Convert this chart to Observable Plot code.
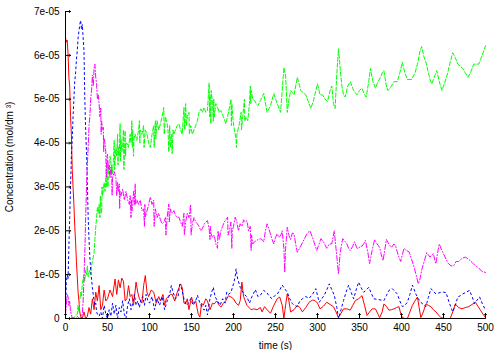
<!DOCTYPE html>
<html>
<head>
<meta charset="utf-8">
<script src="https://cdn.jsdelivr.net/npm/d3@7"></script>
<script src="https://cdn.jsdelivr.net/npm/@observablehq/plot@0.6"></script>
<style>
  html, body { margin: 0; padding: 0; background: #fff; }
</style>
</head>
<body>
<div id="chart"></div>
<script>
// Values are [time (s), concentration in units of 1e-05 mol/dm^3]
const SCALE = 1e-5;

const redData = [[0,6.4],[1,6.3],[2,6.35],[3,6.05],[4,5.5],[5,5.3],[6,4.6],[7,4.2],[8,3.4],[9,3.0],[10,2.6],[11,2.1],[12,1.75],[13,1.3],[14,0.95],[15,0.6],[16,0.4],[17,0.15],[18,0.05],[20,0],[22,0.15],[24,0],[26,0.05],[28,0.25],[30,0.1],[32,0.45],[34,0.2],[36,0.6],[38,0.4],[40,0.75],[42,0.2],[44,0.3],[46,0.65],[48,0.4],[50,0.45],[53,0.65],[56,0.5],[59,0.9],[61,0.55],[63,0.88],[65,0.7],[67,0.92],[69,0.85],[71,0.4],[73,0.45],[75,0.75],[77,0.5],[79,0.55],[81,0.3],[84,0.83],[86,0.6],[88,0.45],[91,0.35],[93,0.75],[95,0.98],[97,0.6],[99,0.5],[102,0.65],[105,0.6],[108,0.35],[111,0.5],[113,0.4],[116,0.55],[118,0.3],[120,0.45],[122,0.5],[125,0.55],[127,0.55],[130,0.4],[133,0.6],[135,0.7],[137,0.79],[139,0.7],[141,0.35],[143,0.34],[145,0.45],[147,0.2],[150,0.49],[152,0.35],[155,0.4],[158,0.1],[160,0.03],[162,0.35],[164,0.3],[167,0.45],[169,0.4],[172,0.2],[175,0.35],[177,0.33],[180,0.4],[183,0.3],[185,0.26],[188,0.35],[191,0.41],[194,0.52],[197,0.49],[200,0.45],[203,0.35],[206,0.3],[208,0.41],[210,0.83],[212,0.5],[214,0.4],[216,0.3],[218,0.26],[221,0.2],[224,0.22],[228,0.2],[232,0.25],[234,0.15],[237,0.27],[240,0.2],[244,0.12],[248,0.3],[252,0.45],[255,0.49],[258,0.3],[260,0],[262,0.3],[264,0.56],[266,0.4],[268,0.15],[272,0.2],[276,0.3],[279,0.25],[282,0.15],[286,0.25],[290,0.37],[294,0.42],[297,0.41],[300,0.35],[303,0.22],[307,0.28],[311,0.37],[315,0.32],[319,0.27],[322,0.15],[325,0.02],[328,0.12],[331,0.22],[335,0.22],[339,0.19],[342,0.3],[345,0.41],[349,0.45],[353,0.52],[356,0.3],[359,0.07],[362,0.15],[365,0.22],[369,0.22],[372,0.1],[374,0.02],[377,0.15],[379,0.33],[382,0.28],[385,0.19],[388,0.2],[391,0.22],[394,0.25],[397,0.27],[399,0.12],[401,0.02],[404,0],[407,0],[410,0.15],[413,0.3],[416,0.4],[419,0.49],[421,0.25],[423,0.02],[426,0.15],[429,0.33],[432,0.3],[435,0.27],[438,0.2],[441,0.15],[444,0.08],[447,0.02],[451,0],[454,0],[458,0],[461,0.15],[464,0.33],[468,0.25],[472,0.22],[476,0.25],[480,0.27],[484,0.32],[488,0.37],[491,0.28],[494,0.19],[497,0.1],[500,0.02]];

const greenData = [[0,0],[5,0],[10,0.02],[12,0.05],[14,0.1],[15,0.3],[16,0.15],[17,0.4],[18,0.6],[19,0.5],[20,0.8],[21,0.9],[22,1.0],[23,0.85],[24,1.1],[25,1.0],[26,1.2],[27,0.95],[28,1.05],[29,1.1],[30,1.0],[31,1.2],[32,1.3],[33,1.4],[34,1.48],[35,1.8],[36,2.08],[37,2.3],[38,2.53],[39,2.4],[40,2.6],[41,2.3],[41.5,2.8],[42,2.53],[43,2.4],[43.5,3.0],[44,2.8],[45,2.92],[46,3.1],[47,2.9],[48,3.2],[49,3.0],[50,3.6],[50.5,3.0],[51,3.45],[52,3.3],[53,3.7],[54,3.6],[54.5,3.3],[55,3.5],[56,3.3],[57,3.6],[58,4.06],[58.5,3.4],[59,3.55],[60,3.9],[61,3.7],[62,4.2],[62.5,3.5],[63,3.9],[64,3.7],[65,4.44],[65.5,3.6],[66,4.1],[67,3.8],[68,3.9],[69,4.3],[69.5,3.4],[70,3.7],[71,4.28],[71.5,3.7],[72,4.0],[73,4.0],[75,3.9],[77,4.2],[78,4.0],[79,4.51],[79.5,3.9],[80,4.3],[81,3.7],[81.5,4.1],[83,4.2],[85,4.06],[87,4.3],[88,4.51],[88.5,4.0],[89,4.3],[91,4.2],[93,4.4],[93.5,3.9],[95,4.3],[97,4.2],[99,4.0],[101,3.9],[103,4.2],[105,4.4],[105.5,3.9],[107,4.51],[107.5,4.1],[109,4.51],[111,4.3],[113,4.44],[115,4.6],[117,4.81],[117.5,4.2],[119,4.6],[121,4.44],[122,4.3],[123,3.8],[124,4.4],[125,3.9],[126,4.2],[127,3.76],[128,4.3],[129,4.2],[131,4.3],[133,4.4],[135,4.44],[137,4.3],[139,4.2],[141,4.81],[142,4.3],[143,4.9],[144,4.4],[145,4.6],[147,4.7],[147.5,4.2],[149,4.4],[151,4.2],[153,4.3],[155,4.4],[157,4.51],[159,4.7],[161,4.78],[163,4.7],[165,4.81],[167,4.7],[169,4.74],[171,5.37],[171.5,4.6],[172,5.1],[173,4.44],[173.5,5.2],[175,4.9],[176,4.5],[176.5,5.0],[177,4.59],[179,4.9],[181,4.81],[183,4.7],[185,4.74],[188,4.6],[191,4.44],[194,4.7],[197,5.0],[197.5,4.4],[198,4.9],[199,4.6],[201,4.3],[203,4.1],[203.5,3.9],[204,4.2],[207,4.44],[209,4.7],[209.5,4.3],[211,4.6],[213,5.0],[213.5,4.5],[215,4.6],[217,4.51],[219,4.9],[220,5.3],[220.5,4.9],[221,5.2],[223,5.0],[225,4.97],[227,4.9],[229,4.85],[232,4.97],[236,5.13],[240,4.7],[244,4.85],[248,5.13],[252,4.9],[256,4.7],[258,5.2],[260,5.72],[262,5.55],[264,4.7],[266,5.0],[268,5.2],[270,5.15],[272,5.1],[274,5.3],[276,5.5],[278,5.35],[280,5.2],[283,5.15],[286,5.1],[289,4.95],[292,4.79],[295,4.95],[298,5.2],[300,5.35],[303,5.1],[306,5.1],[309,5.0],[312,4.95],[315,5.2],[317,5.3],[319,4.9],[321,4.79],[323,5.58],[325,6.15],[327,5.7],[329,5.3],[331,5.1],[333,5.05],[336,5.3],[339,5.4],[343,5.2],[347,5.1],[350,5.2],[353,5.25],[356,5.1],[358,5.05],[361,5.4],[363,5.7],[366,5.4],[369,5.25],[372,5.4],[375,5.5],[377,5.6],[379,5.65],[382,5.3],[384,5.2],[388,5.3],[391,5.4],[395,5.4],[398,5.6],[401,5.84],[404,5.6],[407,5.45],[410,5.45],[412,5.45],[416,5.6],[419,5.8],[422,6.1],[424,6.2],[427,5.95],[429,5.85],[432,5.6],[434,5.45],[436,5.35],[439,5.5],[442,5.65],[445,5.4],[448,5.2],[451,5.35],[455,5.6],[458,5.85],[461,6.06],[464,5.95],[467,5.8],[470,5.75],[473,5.7],[476,5.6],[479,5.5],[482,5.6],[486,5.8],[489,5.8],[492,5.8],[494,5.9],[496,6.0],[498,6.1],[500,6.22]];

const blueData = [[0,0.2],[1,0.8],[2,1.0],[3,0.9],[4,1.6],[5,2.3],[6,3.0],[7,3.7],[8,4.1],[9,4.6],[10,5.0],[11,5.4],[12,5.6],[13,5.9],[14,6.1],[15,6.4],[16,6.55],[17,6.7],[18,6.8],[19,6.6],[20,6.7],[21,6.4],[22,6.1],[23,5.0],[24,4.3],[25,3.8],[26,3.1],[27,2.3],[28,1.8],[29,1.4],[30,1.1],[31,0.9],[32,0.7],[33,0.55],[34,0.4],[35,0.3],[36,0.35],[37,0.15],[38,0.1],[40,0.05],[42,0.15],[44,0],[46,0.3],[48,0.1],[50,0.0],[52,0.2],[54,0.05],[56,0.35],[58,0.1],[60,0.3],[62,0.0],[64,0.25],[66,0.15],[68,0.4],[70,0.1],[72,0.0],[74,0.3],[76,0.45],[78,0.2],[80,0.35],[82,0.55],[84,0.3],[86,0.4],[88,0.25],[90,0.45],[92,0.5],[94,0.3],[96,0.55],[98,0.4],[100,0.35],[103,0.5],[106,0.2],[109,0.45],[112,0.3],[115,0.5],[118,0.2],[121,0.4],[124,0.55],[126,0.75],[128,0.6],[131,0.45],[134,0.5],[136,0.78],[138,0.7],[141,0.45],[144,0.3],[146,0.34],[149,0.45],[152,0.3],[155,0.4],[157,0.53],[160,0.35],[163,0.25],[165,0.19],[167,0.3],[169,0.08],[172,0.45],[174,0.6],[176,0.71],[178,0.5],[181,0.4],[184,0.3],[187,0.45],[190,0.35],[192,0.6],[194,0.55],[197,0.6],[200,0.79],[202,0.95],[203,1.13],[205,0.9],[208,0.71],[211,0.6],[213,0.55],[216,0.49],[219,0.35],[222,0.5],[226,0.66],[229,0.5],[232,0.53],[236,0.64],[240,0.58],[243,0.5],[246,0.45],[249,0.52],[252,0.55],[255,0.65],[258,0.76],[261,0.68],[264,0.6],[267,0.45],[270,0.34],[273,0.3],[276,0.27],[279,0.4],[282,0.45],[286,0.5],[290,0.46],[294,0.55],[298,0.68],[302,0.37],[305,0.45],[308,0.53],[311,0.65],[314,0.79],[317,0.66],[320,0.53],[323,0.25],[325,0],[328,0.2],[331,0.41],[334,0.6],[337,0.76],[340,0.6],[343,0.45],[346,0.65],[349,0.83],[352,0.7],[355,0.6],[358,0.65],[361,0.71],[364,0.58],[367,0.45],[370,0.44],[373,0.43],[376,0.42],[379,0.41],[382,0.52],[385,0.64],[389,0.68],[392,0.62],[395,0.56],[398,0.4],[401,0.27],[404,0.3],[407,0.37],[410,0.55],[413,0.76],[417,0.56],[420,0.45],[423,0.37],[426,0.32],[429,0.27],[432,0.48],[435,0.68],[438,0.62],[441,0.56],[444,0.58],[447,0.6],[450,0.6],[453,0.59],[457,0.35],[461,0.15],[464,0.3],[467,0.49],[470,0.52],[473,0.56],[477,0.6],[481,0.64],[484,0.5],[487,0.34],[490,0.42],[493,0.49],[496,0.35],[500,0.19]];

const magentaData = [[0,0.1],[1,0.3],[2,0.55],[3,0.5],[4,0.3],[5,0.4],[6,0.15],[7,0.1],[8,0],[10,0.02],[12,0],[14,0.05],[16,0],[18,0.02],[20,0.1],[21,0.4],[22,0.9],[23,1.5],[24,2.3],[25,3.0],[26,3.5],[27,3.9],[28,4.4],[29,4.6],[30,5.0],[31,5.2],[32,5.55],[33,5.3],[34,5.7],[35,5.8],[36,5.5],[37,5.35],[38,5.0],[39,5.1],[40,4.9],[41,4.6],[42,4.8],[42.5,4.2],[43,4.5],[44,4.3],[45,4.36],[45.5,3.8],[46,4.1],[47,4.0],[48,3.8],[48.5,3.2],[49,3.6],[50,3.75],[51,3.4],[52,3.5],[53,3.2],[54,3.45],[55,3.3],[55.5,2.8],[56,3.2],[58,3.35],[60,3.2],[61,2.8],[62,3.1],[63,2.9],[64,3.07],[64.5,2.5],[65,2.9],[66,2.8],[68,2.95],[70,2.7],[72,2.9],[74,2.7],[76,2.6],[77,2.8],[78,2.3],[78.5,2.7],[79,2.45],[80,2.6],[81,2.9],[82,2.6],[83,3.07],[83.5,2.6],[85,2.7],[87,2.6],[89,2.7],[91,2.46],[93,2.5],[94,2.1],[94.5,2.6],[95,2.31],[97,2.45],[99,2.6],[101,2.77],[103,2.6],[105,2.7],[105.5,2.1],[107,2.5],[109,2.3],[111,2.4],[113,2.25],[115,2.16],[117,2.2],[119,2.3],[119.5,1.9],[121,2.3],[123,2.61],[123.5,2.2],[125,2.5],[127,2.4],[129,2.46],[131,2.35],[133,2.3],[135,2.31],[137,2.2],[139,2.1],[141,2.4],[141.5,1.9],[143,2.2],[145,2.4],[147,2.3],[149,2.6],[149.5,1.9],[151,2.16],[153,2.3],[155,2.2],[157,2.16],[159,2.1],[161,2.0],[163,2.05],[165,2.15],[167,2.2],[169,2.23],[171,2.05],[172,1.8],[172.5,2.1],[173,1.95],[175,1.85],[177,1.9],[179,1.7],[181,1.6],[181.5,2.0],[183,1.8],[185,2.0],[187,2.1],[189,2.2],[191,2.25],[193,2.31],[193.5,1.9],[195,2.0],[197,2.2],[198,1.6],[198.5,2.0],[200,2.1],[202,2.31],[204,2.2],[206,2.0],[208,2.16],[210,2.1],[212,2.25],[214,2.2],[216,2.23],[218,2.0],[220,2.1],[221,1.55],[221.5,1.9],[223,1.7],[225,1.75],[227,1.77],[229,1.8],[232,1.82],[234,1.8],[236,1.75],[238,2.0],[240,2.16],[242,2.05],[244,1.93],[246,1.8],[248,1.7],[250,1.85],[252,1.93],[254,1.85],[256,1.88],[258,2.0],[260,1.6],[261,1.05],[262,1.6],[264,2.08],[266,1.9],[268,1.8],[270,1.95],[272,1.93],[274,1.7],[276,1.51],[280,1.65],[284,1.8],[288,1.95],[291,2.0],[295,1.8],[299,1.55],[302,1.7],[304,1.82],[307,1.75],[311,1.6],[314,1.7],[317,1.7],[320,2.0],[322,1.6],[325,1.02],[327,1.5],[330,1.82],[333,1.75],[335,1.7],[337,1.6],[339,1.55],[342,1.65],[344,1.75],[347,1.6],[349,1.6],[351,1.65],[353,1.65],[355,1.7],[357,1.78],[360,1.5],[362,1.25],[365,1.55],[368,1.8],[371,1.7],[374,1.62],[376,1.45],[378,1.32],[380,1.55],[382,1.8],[385,1.7],[388,1.62],[391,1.7],[393,1.65],[396,1.45],[399,1.3],[401,1.45],[403,1.6],[406,1.55],[409,1.52],[412,1.35],[415,1.17],[418,0.95],[420,0.79],[422,0.9],[424,1.1],[427,1.3],[430,1.5],[432,1.45],[434,1.4],[436,1.45],[438,1.48],[440,1.3],[441,1.25],[443,1.5],[445,1.7],[448,1.55],[450,1.48],[453,1.35],[456,1.25],[459,1.2],[462,1.2],[465,1.3],[468,1.3],[472,1.37],[476,1.4],[480,1.35],[484,1.28],[488,1.2],[492,1.15],[496,1.07],[500,1.05]];

const xTicks = [0, 50, 100, 150, 200, 250, 300, 350, 400, 450, 500];
const yTicks = [0, 1e-5, 2e-5, 3e-5, 4e-5, 5e-5, 6e-5, 7e-5];
const yTickLabels = ["0", "1e-05", "2e-05", "3e-05", "4e-05", "5e-05", "6e-05", "7e-05"];
const xLabel = "time (s)";
const yLabel = "Concentration (mol/dm ³)";

const rows = (arr) => arr.map(([t, v]) => ({t, c: v * SCALE}));

const lineOpts = (color, dash) => ({
  x: "t", y: "c", stroke: color, strokeWidth: 1, strokeDasharray: dash, curve: "linear"
});

const chart = Plot.plot({
  width: 500,
  height: 350,
  marginLeft: 65,
  marginRight: 15,
  marginTop: 11,
  marginBottom: 32,
  style: {fontFamily: "'Liberation Sans', Arial, Helvetica, sans-serif", fontSize: "10px", background: "#fff", color: "#000"},
  x: {domain: [0, 500]},
  y: {domain: [0, 7e-5]},
  marks: [
    Plot.lineY(rows(redData), lineOpts("#ff0000", null)),
    Plot.lineY(rows(greenData), lineOpts("#00ff00", "4,2")),
    Plot.lineY(rows(blueData), lineOpts("#0000ff", "2,3")),
    Plot.lineY(rows(magentaData), lineOpts("#ff00ff", "5,2,1,2")),
    Plot.vector(xTicks, {x: d => d, y: 0, length: 5, rotate: 0, anchor: "start", stroke: "#000", strokeWidth: 1}),
    Plot.vector(yTicks, {x: 0, y: d => d, length: 5, rotate: 90, anchor: "start", stroke: "#000", strokeWidth: 1}),
    Plot.axisX({ticks: xTicks, tickSize: 0, tickPadding: 5, label: xLabel, labelAnchor: "center", labelOffset: 30, labelArrow: "none"}),
    Plot.axisY({ticks: yTicks, tickSize: 0, tickPadding: 6, tickFormat: (d) => yTickLabels[yTicks.indexOf(d)], label: null}),
    Plot.text([yLabel], {text: d => d, frameAnchor: "left", rotate: -90, dx: -60, dy: -8, lineAnchor: "top", textAnchor: "middle", fill: "#000"}),
    Plot.ruleX([0], {stroke: "#000", strokeWidth: 1}),
    Plot.ruleY([0], {stroke: "#000", strokeWidth: 1})
  ]
});

document.getElementById("chart").appendChild(chart);
</script>
</body>
</html>
